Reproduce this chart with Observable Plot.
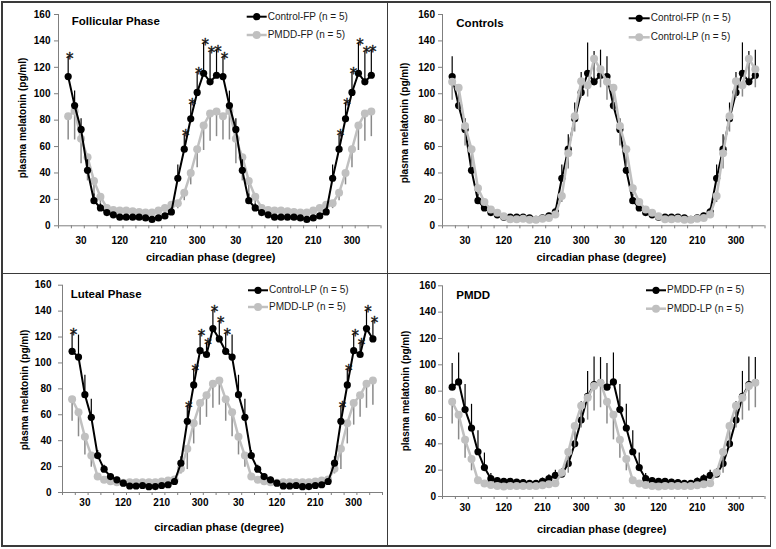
<!DOCTYPE html>
<html><head><meta charset="utf-8">
<script src="https://cdn.jsdelivr.net/npm/d3@7"></script>
<script src="https://cdn.jsdelivr.net/npm/@observablehq/plot@0.6"></script>
<style>
body{margin:0;background:#fff;font-family:"Liberation Sans",Arial,sans-serif;}
#wrap{position:relative;width:776px;height:549px;overflow:hidden;background:#fff;}
.panel{position:absolute;}
.panel svg{position:absolute;left:0;top:0;}
.ov{position:absolute;white-space:nowrap;color:#000;line-height:1;}
.line{position:absolute;background:#3a3a3a;}
</style></head><body><div id="wrap"></div>
<script>
// circadian phase (degree) of each sample within one cycle
const phases = [0,15,30,45,60,75,90,105,120,135,150,165,180,195,210,225,240,255,270,285,300,315,330,345];
const tickPhases = [30,120,210,300];
const yTicks = [0,20,40,60,80,100,120,140,160];

// plasma melatonin (pg/ml), mean and SEM
const controlFP    = [113,91,73,42,19,13.5,10,8.3,6.5,6.5,6.5,6.5,6,4.8,6,7.5,10.5,36,58,81,101,115.5,109,114];
const controlFPErr = [15,11,8,8,5,3,2,1.5,1.5,1.5,1.5,1.5,1.5,1.5,1.5,2,3,10,11,12,15,23,23,19];
const pmddFP       = [83,87,66,52,34,22,13.5,12,11.5,11.5,11,10.5,10,10,11.5,13.5,16,17,25,40,58,76,85,86.5];
const pmddFPErr    = [18,22,19,18,16,11,4,2,2,2,2,2,2,2,2.5,3,4,4,6,9,14,19,21,19];
const controlLP    = [109,104.5,75.5,58,28.5,18,12.3,9.8,7.2,5,5,5.4,4.5,4.6,5.4,6,8.5,22.6,55,83,109.5,106.5,126.5,118.5];
const controlLPErr = [14,17,15,14,4,3,2,2,1.5,1.5,1.5,1.5,1.5,1.5,1.5,1.5,2,5,12,12,13,9,14,14];
const pmddLP       = [72,62,43,28.5,12.3,9.8,8.7,8,7.5,8,8,8,8,8,8.5,9.3,10,18.3,33.7,53.5,69,75,84,86.4];
const pmddLPErr    = [17,19,14,9,3,2,2,1.5,1.5,1.5,1.5,1.5,1.5,1.5,1.5,2,2,4,16,16,17,17,19,19];
// phases (by index) with significant Control vs PMDD difference
const sigIdx = [0,18,19,20,21,22,23];

const panels = [
  {title:"Follicular Phase", left:0, top:0, w:388, h:272, m:[14,7.5,46.7,58],
   a:{name:"Control-FP (n = 5)", v:controlFP, e:controlFPErr},
   b:{name:"PMDD-FP (n = 5)", v:pmddFP, e:pmddFPErr},
   sig:true, grayFirst:true, xPad:11, yPad:4,
   leg:{x1:246.7,x2:266.7,y1:16.7,y2:35}, tp:[71.7,22], xt:[210.7,256.7], yt:[22.7,118]},
  {title:"Controls", left:388, top:0, w:388, h:272, m:[14,11.5,46.7,54],
   a:{name:"Control-FP (n = 5)", v:controlFP, e:controlFPErr},
   b:{name:"Control-LP (n = 5)", v:controlLP, e:controlLPErr},
   sig:false, grayFirst:false, xPad:11.5, yPad:3.5,
   leg:{x1:240.7,x2:261.7,y1:18.3,y2:37.3}, tp:[68.3,24], xt:[213.3,256.7], yt:[16.7,122.5]},
  {title:"Luteal Phase", left:0, top:272, w:388, h:277, m:[12.7,6,57,62],
   a:{name:"Control-LP (n = 5)", v:controlLP, e:controlLPErr},
   b:{name:"PMDD-LP (n = 5)", v:pmddLP, e:pmddLPErr},
   sig:true, grayFirst:true, xPad:6.5, yPad:7,
   leg:{x1:248,x2:268,y1:18.3,y2:35}, tp:[70.7,23.3], xt:[219,255], yt:[25,118.3]},
  {title:"PMDD", left:388, top:272, w:388, h:277, m:[13.3,11.5,53,54],
   a:{name:"PMDD-FP (n = 5)", v:pmddFP, e:pmddFPErr},
   b:{name:"PMDD-LP (n = 5)", v:pmddLP, e:pmddLPErr},
   sig:false, grayFirst:false, xPad:7.5, yPad:2.5,
   leg:{x1:258,x2:278,y1:18.3,y2:36.7}, tp:[68.3,24], xt:[213.7,256.7], yt:[18.3,119]}
];

const BLACK = "#000", GRAY = "#c0c0c0", GRAYBAR = "#8a8a8a", AXIS = "#7f7f7f";
const FONT = "Liberation Sans, Arial, sans-serif";

function rows(v, e) {
  return [0,1].flatMap(c => phases.map((ph, k) => ({x: k + 24 * c, k, v: v[k], e: e[k]})));
}

const wrap = document.getElementById("wrap");

for (const p of panels) {
  const A = rows(p.a.v, p.a.e), B = rows(p.b.v, p.b.e);
  const labelPos = [0,1].flatMap(c => tickPhases.map(t => phases.indexOf(t) + 24 * c));
  const tickPos = d3.range(-1.5, 49, 2);
  const blackMarks = [
    Plot.ruleX(A, {x:"x", y1:"v", y2:d => d.v + d.e, stroke:BLACK, strokeWidth:1.2}),
    Plot.line(A, {x:"x", y:"v", stroke:BLACK, strokeWidth:2}),
    Plot.dot(A, {x:"x", y:"v", r:3.6, fill:BLACK, stroke:"none"})
  ];
  const grayMarks = [
    Plot.ruleX(B, {x:"x", y1:"v", y2:d => d.v - d.e, stroke:GRAYBAR, strokeWidth:1.5}),
    Plot.line(B, {x:"x", y:"v", stroke:GRAY, strokeWidth:2.5}),
    Plot.dot(B, {x:"x", y:"v", r:4, fill:GRAY, stroke:"none"})
  ];
  const series = p.grayFirst ? [...grayMarks, ...blackMarks] : [...blackMarks, ...grayMarks];
  const sigMarks = p.sig ? [Plot.text(A.filter(d => sigIdx.includes(d.k)), {
    x:"x", y:d => d.v + d.e, text:() => "*", fontSize:15, fontFamily:"DejaVu Sans",
    dx:1.5, dy:2, fill:"#111", stroke:"#111", strokeWidth:0.4
  })] : [];

  const chart = Plot.plot({
    width:p.w, height:p.h,
    marginTop:p.m[0], marginRight:p.m[1], marginBottom:p.m[2], marginLeft:p.m[3],
    style:{fontFamily:FONT, background:"transparent", overflow:"visible"},
    x:{domain:[-1.5, 48.5]},
    y:{domain:[0, 160]},
    marks:[
      Plot.ruleY([0], {stroke:AXIS}),
      Plot.ruleX([-1.5], {stroke:AXIS}),
      Plot.axisY({ticks:yTicks, tickSize:4, tickPadding:p.yPad, stroke:AXIS, fill:"#000",
                  fontWeight:"bold", fontSize:10, label:null}),
      Plot.axisX({ticks:tickPos, tickSize:3, tickFormat:() => "", stroke:AXIS, label:null}),
      Plot.axisX({ticks:labelPos, tickSize:0, tickPadding:p.xPad, tickFormat:d => String(phases[d % 24]),
                  fill:"#000", fontWeight:"bold", fontSize:10, label:null}),
      ...series,
      ...sigMarks
    ]
  });

  const div = document.createElement("div");
  div.className = "panel";
  div.style.left = p.left + "px"; div.style.top = p.top + "px";
  div.style.width = p.w + "px"; div.style.height = p.h + "px";
  div.appendChild(chart);

  const add = (txt, css) => {
    const t = document.createElement("div");
    t.className = "ov"; t.textContent = txt;
    Object.assign(t.style, css);
    div.appendChild(t);
    return t;
  };
  // panel title
  add(p.title, {left:p.tp[0] + "px", top:p.tp[1] + "px", transform:"translateY(-50%)",
                fontWeight:"bold", fontSize:"11.5px"});
  // axis titles
  add("circadian phase (degree)", {left:p.xt[0] + "px", top:p.xt[1] + "px",
      transform:"translate(-50%,-50%)", fontWeight:"bold", fontSize:"11px"});
  add("plasma melatonin (pg/ml)", {left:p.yt[0] + "px", top:p.yt[1] + "px",
      transform:"translate(-50%,-50%) rotate(-90deg)", fontWeight:"bold", fontSize:"10px"});
  // legend
  const L = p.leg;
  const svgNS = "http://www.w3.org/2000/svg";
  const lg = document.createElementNS(svgNS, "svg");
  lg.setAttribute("width", p.w); lg.setAttribute("height", 50);
  lg.style.position = "absolute"; lg.style.left = "0px"; lg.style.top = "0px";
  [[L.y1, BLACK, 2, 3.6, p.a.name], [L.y2, GRAY, 2.5, 4, p.b.name]].forEach(([y, col, sw, r, name]) => {
    const ln = document.createElementNS(svgNS, "line");
    ln.setAttribute("x1", L.x1); ln.setAttribute("x2", L.x2);
    ln.setAttribute("y1", y); ln.setAttribute("y2", y);
    ln.setAttribute("stroke", col); ln.setAttribute("stroke-width", sw);
    lg.appendChild(ln);
    const c = document.createElementNS(svgNS, "circle");
    c.setAttribute("cx", (L.x1 + L.x2) / 2); c.setAttribute("cy", y);
    c.setAttribute("r", r); c.setAttribute("fill", col);
    lg.appendChild(c);
    add(name, {left:(L.x2 + 1) + "px", top:y + "px", transform:"translateY(-50%)", fontSize:"10px", color:"#1a1a1a"});
  });
  div.appendChild(lg);
  wrap.appendChild(div);
}

// frame and dividers
const lines = [
  {left:1, top:1, width:770, height:1.5},
  {left:1, top:545, width:770, height:1.5},
  {left:1, top:1, width:1.5, height:545.5},
  {left:769.5, top:1, width:1.5, height:545.5},
  {left:386.5, top:1, width:1.5, height:545.5},
  {left:1, top:272.5, width:770, height:1.5}
];
for (const l of lines) {
  const d = document.createElement("div");
  d.className = "line";
  Object.assign(d.style, {left:l.left + "px", top:l.top + "px", width:l.width + "px", height:l.height + "px"});
  wrap.appendChild(d);
}
</script></body></html>
